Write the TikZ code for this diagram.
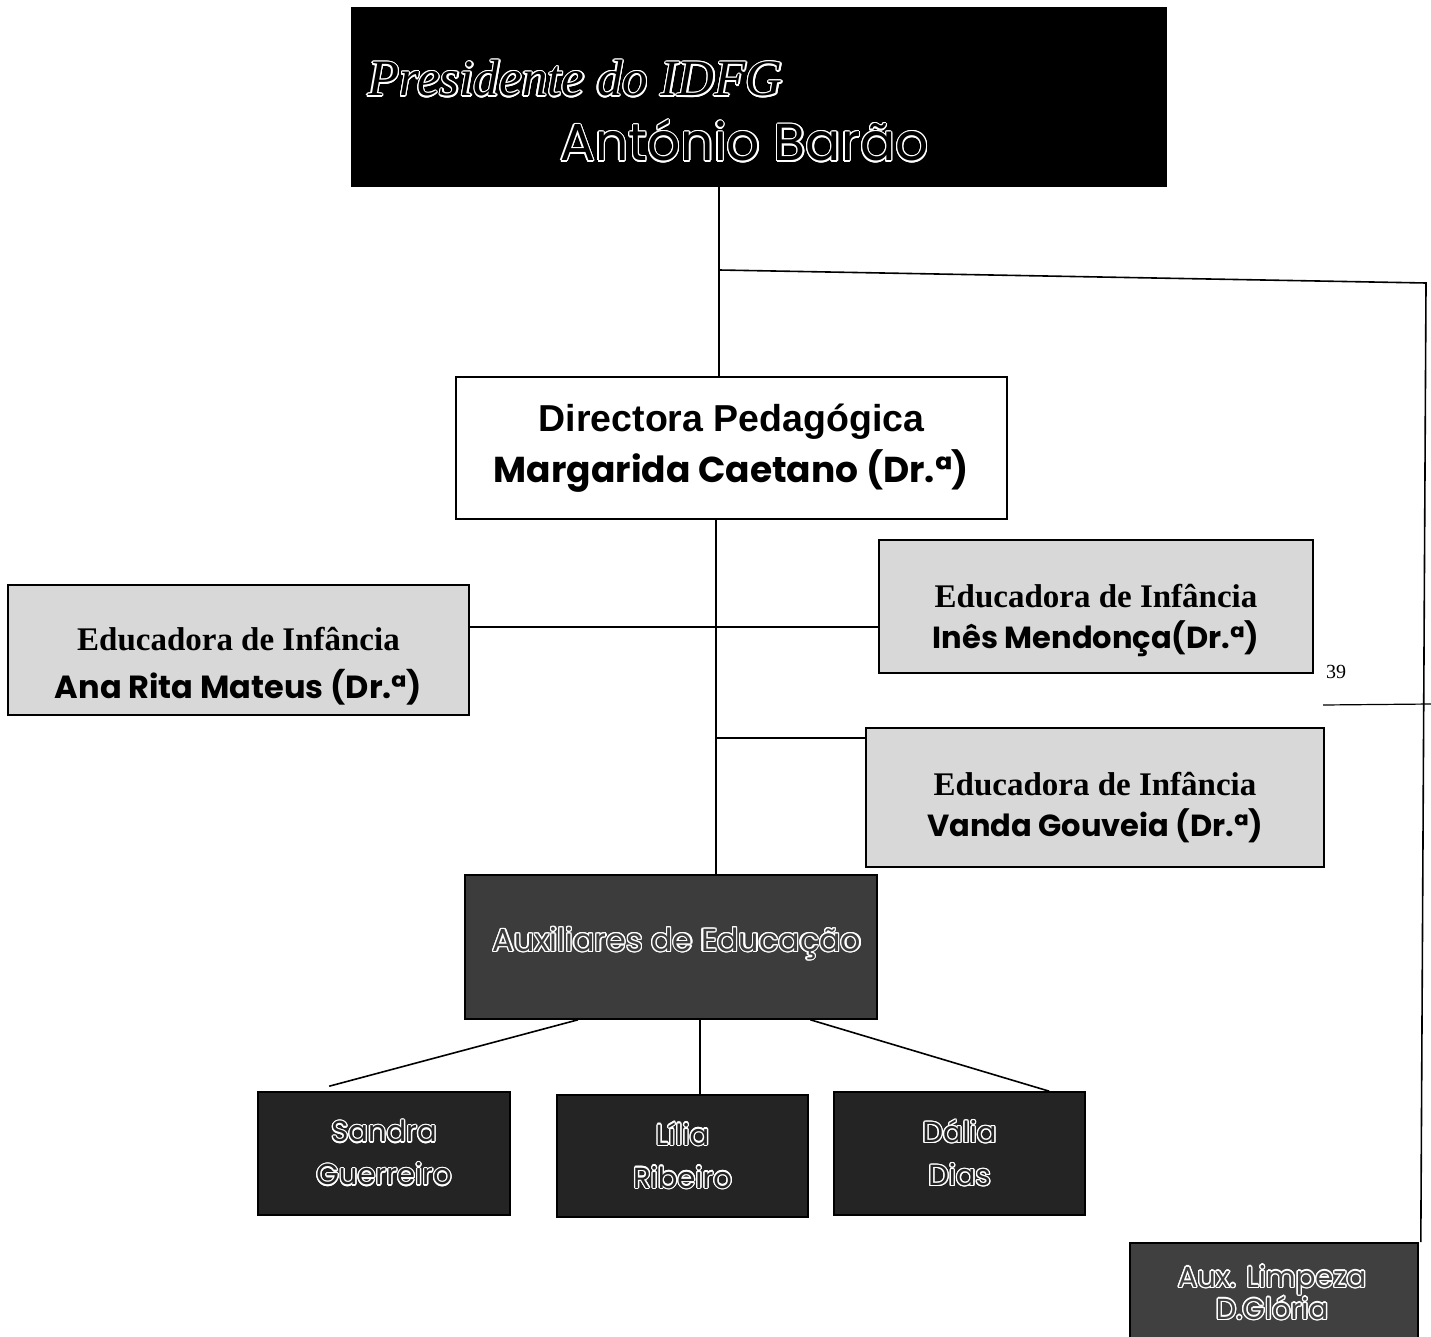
\documentclass[tikz,border=0pt]{standalone}
\usepackage{fontspec}
\usepackage{contour}
\usetikzlibrary{calc}
\setmainfont{Liberation Serif}
\newfontfamily\arialf{Liberation Sans}
\newfontfamily\comicf{Poppins}
\contourlength{1.3pt}
\definecolor{lightfill}{HTML}{D8D8D8}
\definecolor{auxfill}{HTML}{3C3C3C}
\definecolor{namefill}{HTML}{242424}
\definecolor{limpfill}{HTML}{404040}
\newcommand{\outl}[2]{\contour{white}{\textcolor{#1}{#2}}}
\tikzset{
  box/.style={draw=black, line width=1.6pt, inner sep=0pt, align=center, rectangle},
  lightbox/.style={box, fill=lightfill},
  txt/.style={inner sep=0pt, align=center},
  conn/.style={draw=black, line width=1.6pt},
}
\begin{document}
\begin{tikzpicture}[x=1pt,y=-1pt]
\clip (0,0) rectangle (1431,1337);
\fill[white] (0,0) rectangle (1431,1337);

% Presidente
\node[box, fill=black, minimum width=814pt, minimum height=178pt] (pres) at (759,97) {};
\node[anchor=base west, inner sep=0pt] (prest) at (368,96) {\fontsize{51}{55}\selectfont\itshape\outl{black}{Presidente do IDFG}};
\node[anchor=base west, inner sep=0pt] (presn) at (560,161) {\fontsize{52}{56}\selectfont\comicf\outl{black}{António Barão}};

% Directora
\node[box, fill=white, minimum width=551pt, minimum height=142pt,
      font={\fontsize{36}{51}\selectfont}] (dir) at (731.5,448) {%
  {\arialf\bfseries\fontsize{37.5}{51}\selectfont Directora Pedagógica}\\
  {\comicf\bfseries Margarida Caetano (Dr.ª)}};

% Educadoras
\node[lightbox, minimum width=461pt, minimum height=130pt] (ana) at (238.5,650) {};
\node[txt, font={\fontsize{33}{48}\selectfont\bfseries}] (anat) at ($(ana)+(0,16)$) {%
  Educadora de Infância\\
  {\comicf\fontsize{32}{48}\selectfont Ana Rita Mateus (Dr.ª)}};
\node[lightbox, minimum width=434pt, minimum height=133pt] (ines) at (1096,606.5) {};
\node[txt, font={\fontsize{33}{41}\selectfont\bfseries}] (inest) at ($(ines)+(0,14)$) {%
  Educadora de Infância\\
  {\comicf\fontsize{30.5}{41}\selectfont Inês Mendonça(Dr.ª)}};
\node[lightbox, minimum width=458pt, minimum height=139pt] (vanda) at (1095,797.5) {};
\node[txt, font={\fontsize{33}{41}\selectfont\bfseries}] (vandat) at ($(vanda)+(0,10)$) {%
  Educadora de Infância\\
  {\comicf\fontsize{30.5}{41}\selectfont Vanda Gouveia (Dr.ª)}};

% Auxiliares
\node[box, fill=auxfill, minimum width=412pt, minimum height=144pt] (aux) at (671,947) {};
\node[txt, font={\fontsize{31.8}{36}\selectfont\comicf}] (auxt) at ($(aux)+(6,-3)$) {%
  \outl{auxfill}{Auxiliares de Educação}};
\node[box, fill=namefill, minimum width=252pt, minimum height=123pt,
      font={\fontsize{29}{43}\selectfont\comicf}] (sandra) at (384,1153.5) {%
  \outl{namefill}{Sandra}\\\outl{namefill}{Guerreiro}};
\node[box, fill=namefill, minimum width=251pt, minimum height=122pt,
      font={\fontsize{29}{43}\selectfont\comicf}] (lilia) at (682.5,1156) {%
  \outl{namefill}{Lília}\\\outl{namefill}{Ribeiro}};
\node[box, fill=namefill, minimum width=251pt, minimum height=123pt,
      font={\fontsize{29}{43}\selectfont\comicf}] (dalia) at (959.5,1153.5) {%
  \outl{namefill}{Dália}\\\outl{namefill}{Dias}};

% Aux Limpeza
\node[box, fill=limpfill, minimum width=288pt, minimum height=110pt] (limp) at (1274,1298) {};
\node[txt, font={\fontsize{29}{32}\selectfont\comicf}] (limpt) at (1272,1293) {%
  \outl{limpfill}{Aux. Limpeza}\\\outl{limpfill}{D.Glória}};

% page number and footer rule
\node[anchor=base west, inner sep=0pt] (pg) at (1326,678) {\fontsize{20}{22}\selectfont 39};
\coordinate (r1) at (1323,705);
\coordinate (r2) at (1431,704);
\draw[line width=1.2pt] (r1) -- (r2);

% connectors
\coordinate (j1) at (719,270);
\coordinate (c2) at (1426,283);
\coordinate (j2) at (716,627);
\coordinate (j3) at (716,738);
\coordinate (l1) at (700,1050);

\draw[conn] (j1 |- pres.south) -- (j1 |- dir.north);
\draw[conn] (j1) -- (c2) -- ($(limp.north east)+(2,0)$);
\draw[conn] (j2 |- dir.south) -- (j2 |- aux.north);
\draw[conn] (ana.east |- j2) -- (ines.west |- j2);
\draw[conn] (j3) -- (vanda.west |- j3);
\draw[conn] ($(aux.south west)!0.275!(aux.south east)$) -- ($(sandra.north west)+(72,-5)$);
\draw[conn] (l1 |- aux.south) -- (l1 |- lilia.north);
\draw[conn] ($(aux.south west)!0.837!(aux.south east)$) -- ($(dalia.north west)+(216,0)$);
\end{tikzpicture}
\end{document}
